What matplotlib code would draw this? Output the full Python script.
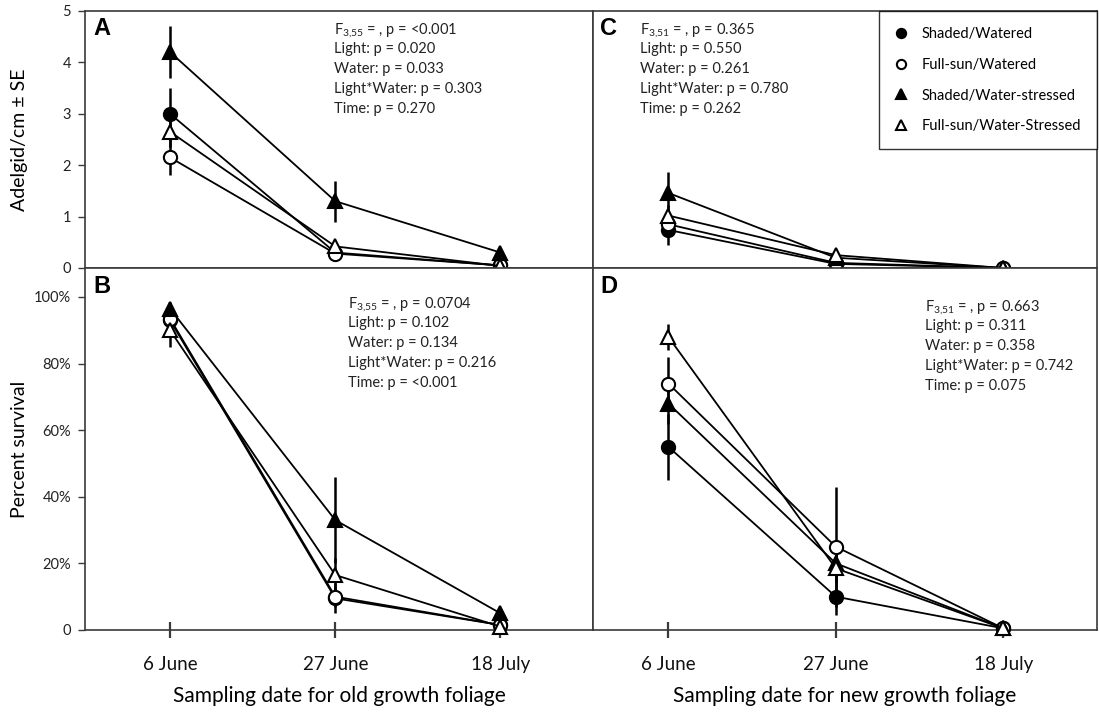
import matplotlib
matplotlib.use("Agg")
import matplotlib.pyplot as plt
from matplotlib.ticker import FuncFormatter

plt.rcParams["font.family"] = ["Lato", "DejaVu Sans"]
plt.rcParams["mathtext.fontset"] = "custom"
plt.rcParams["mathtext.rm"] = "Lato"
plt.rcParams["mathtext.it"] = "Lato:italic"

# =========================
# DATA
# =========================
dates = ["6 June", "27 June", "18 July"]
x = [1, 2, 3]

groups = ["Shaded/Watered", "Full-sun/Watered",
          "Shaded/Water-stressed", "Full-sun/Water-Stressed"]

# panel A - adelgid density, old growth
a_sw = [3.0, 0.30, 0.05]
a_fw = [2.15, 0.28, 0.05]
a_ss = [4.2, 1.30, 0.30]
a_fs = [2.65, 0.42, 0.04]
a_sw_se = [0.5, 0.05, 0.02]
a_fw_se = [0.35, 0.05, 0.02]
a_ss_se = [0.5, 0.40, 0.05]
a_fs_se = [0.3, 0.05, 0.02]

# panel C - adelgid density, new growth
c_sw = [0.74, 0.08, 0.0]
c_fw = [0.85, 0.10, 0.0]
c_ss = [1.46, 0.20, 0.0]
c_fs = [1.02, 0.25, 0.0]
c_sw_se = [0.3, 0.03, 0.0]
c_fw_se = [0.1, 0.03, 0.0]
c_ss_se = [0.4, 0.05, 0.0]
c_fs_se = [0.2, 0.05, 0.0]

# panel B - percent survival, old growth
b_sw = [93.0, 9.5, 1.5]
b_fw = [93.5, 10.0, 1.5]
b_ss = [96.5, 33.0, 5.0]
b_fs = [90.0, 16.5, 1.0]
b_sw_se = [3.0, 4.5, 1.0]
b_fw_se = [2.0, 3.0, 1.0]
b_ss_se = [2.0, 13.0, 1.0]
b_fs_se = [5.0, 5.0, 1.0]

# panel D - percent survival, new growth
d_sw = [55.0, 10.0, 0.5]
d_fw = [74.0, 25.0, 0.5]
d_ss = [68.0, 20.0, 0.5]
d_fs = [88.0, 18.5, 0.5]
d_sw_se = [10.0, 5.5, 0.0]
d_fw_se = [8.0, 18.0, 0.0]
d_ss_se = [6.0, 5.0, 0.0]
d_fs_se = [4.0, 4.0, 0.0]

stats_a = [r"F$_{3{,}55}$ = , p = <0.001", "Light: p = 0.020", "Water: p = 0.033",
           "Light*Water: p = 0.303", "Time: p = 0.270"]
stats_b = [r"F$_{3{,}55}$ = , p = 0.0704", "Light: p = 0.102", "Water: p = 0.134",
           "Light*Water: p = 0.216", "Time: p = <0.001"]
stats_c = [r"F$_{3{,}51}$ = , p = 0.365", "Light: p = 0.550", "Water: p = 0.261",
           "Light*Water: p = 0.780", "Time: p = 0.262"]
stats_d = [r"F$_{3{,}51}$ = , p = 0.663", "Light: p = 0.311", "Water: p = 0.358",
           "Light*Water: p = 0.742", "Time: p = 0.075"]

# marker style per group: (marker, facecolor)
styles = [("o", "black"), ("o", "white"), ("^", "black"), ("^", "white")]

spine_col = "#3a3a3a"

# =========================
# FIGURE
# =========================
fig = plt.figure(figsize=(10.99, 7.12), dpi=100)

axA = fig.add_axes([0.0773, 0.6236, 0.4623, 0.3610])
axC = fig.add_axes([0.5396, 0.6236, 0.4586, 0.3610])
axB = fig.add_axes([0.0773, 0.1152, 0.4623, 0.5084])
axD = fig.add_axes([0.5396, 0.1152, 0.4586, 0.5084])


def draw_panel(ax, series, errs):
    for vals, se in zip(series, errs):
        ax.errorbar(x, vals, yerr=se, fmt="none", ecolor="black",
                    elinewidth=1.8, capsize=0, zorder=2)
    for i, vals in enumerate(series):
        m, fc = styles[i]
        ax.plot(x, vals, color="black", lw=1.3, marker=m, markersize=9.5,
                markerfacecolor=fc, markeredgecolor="black",
                markeredgewidth=1.5, zorder=3 + i, label=groups[i])


draw_panel(axA, [a_sw, a_fw, a_ss, a_fs], [a_sw_se, a_fw_se, a_ss_se, a_fs_se])
draw_panel(axC, [c_sw, c_fw, c_ss, c_fs], [c_sw_se, c_fw_se, c_ss_se, c_fs_se])
draw_panel(axB, [b_sw, b_fw, b_ss, b_fs], [b_sw_se, b_fw_se, b_ss_se, b_fs_se])
draw_panel(axD, [d_sw, d_fw, d_ss, d_fs], [d_sw_se, d_fw_se, d_ss_se, d_fs_se])

for ax in [axA, axB]:
    ax.set_xlim(0.485, 3.56)
for ax in [axC, axD]:
    ax.set_xlim(0.55, 3.56)
for ax in [axA, axC]:
    ax.set_ylim(0, 5)
for ax in [axB, axD]:
    ax.set_ylim(0, 108.7)

for ax in [axA, axB, axC, axD]:
    for s in ax.spines.values():
        s.set_color(spine_col)
        s.set_linewidth(1.2)
    for art in ax.lines:
        art.set_clip_on(False)
    for coll in ax.collections:
        coll.set_clip_on(False)

# top panels: no x ticks
for ax in [axA, axC]:
    ax.set_xticks([])
axC.set_yticks([])
axD.set_yticks([])

axA.set_yticks([0, 1, 2, 3, 4, 5])
axA.tick_params(axis="y", direction="out", length=5, width=1, colors=spine_col,
                labelsize=10.5, labelcolor="#222222", pad=5)

axB.set_yticks([0, 20, 40, 60, 80, 100])
axB.yaxis.set_major_formatter(FuncFormatter(lambda v, p: "0" if v == 0 else f"{v:.0f}%"))
axB.tick_params(axis="y", direction="out", length=5, width=1, colors=spine_col,
                labelsize=10.5, labelcolor="#222222", pad=5)

for ax in [axB, axD]:
    ax.set_xticks(x)
    ax.set_xticklabels(dates)
    ax.tick_params(axis="x", direction="inout", length=12, width=1.6,
                   colors=spine_col, labelsize=13.5, labelcolor="#111111", pad=13)

axA.set_ylabel("Adelgid/cm ± SE", fontsize=14)
axB.set_ylabel("Percent survival", fontsize=14)
axA.yaxis.set_label_coords(-0.113, 0.5)
axB.yaxis.set_label_coords(-0.113, 0.5)
axB.set_xlabel("Sampling date for old growth foliage", fontsize=15, labelpad=9)
axD.set_xlabel("Sampling date for new growth foliage", fontsize=15, labelpad=9)

# panel letters
for ax, lab in [(axA, "A"), (axC, "C"), (axB, "B"), (axD, "D")]:
    ax.text(0.016 if ax in (axA, axB) else 0.014, 0.975 if ax in (axA, axC) else 0.982,
            lab, transform=ax.transAxes, fontsize=17, fontweight="bold",
            family="Liberation Sans", va="top", ha="left")

# stats text, one line at a time so spacing stays even (baseline anchored)
for ax, lines, tx, ty in [(axA, stats_a, 0.490, 0.915), (axC, stats_c, 0.093, 0.915),
                          (axB, stats_b, 0.518, 0.892), (axD, stats_d, 0.659, 0.884)]:
    for i, line in enumerate(lines):
        ax.annotate(line, xy=(tx, ty), xycoords="axes fraction",
                    xytext=(0, -14.4 * i), textcoords="offset points",
                    fontsize=10.5, va="baseline", ha="left", color="#222222")

# legend in panel C
leg = axC.legend(loc="upper right", borderaxespad=0, frameon=True, fancybox=False,
                 fontsize=10.5, handlelength=0.8, handletextpad=1.0, labelspacing=1.15,
                 borderpad=1.1, markerscale=0.7)
leg.get_frame().set_edgecolor("black")
leg.get_frame().set_linewidth(1.0)
for h in leg.get_lines():
    h.set_linestyle("none")

plt.savefig("out.png", dpi=100)
